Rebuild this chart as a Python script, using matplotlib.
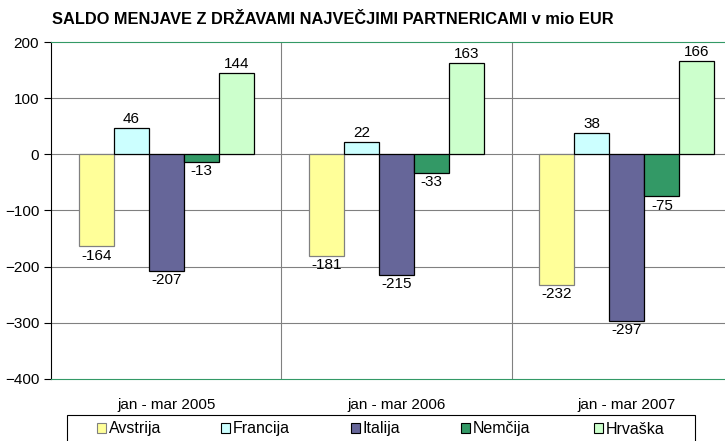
import numpy as np
import matplotlib.pyplot as plt
from matplotlib.patches import Patch, Rectangle

plt.rcParams['font.family'] = ['Liberation Sans', 'DejaVu Sans']

# podatki
obdobja = ['jan - mar 2005', 'jan - mar 2006', 'jan - mar 2007']
drzave = ['Avstrija', 'Francija', 'Italija', 'Nemčija', 'Hrvaška']
avstrija = [-164, -181, -232]
francija = [46, 22, 38]
italija = [-207, -215, -297]
nemcija = [-13, -33, -75]
hrvaska = [144, 163, 166]
barve = ['#FFFF99', '#CCFFFF', '#666699', '#339966', '#CCFFCC']
robovi = ['#808080', 'black', 'black', 'black', 'black']

serije = [avstrija, francija, italija, nemcija, hrvaska]

fig = plt.figure(figsize=(7.25, 4.41), dpi=100)
# os sega malo cez desni rob slike, kot v originalu
ax = fig.add_axes([51 / 725, 1 - 379 / 441, 691 / 725, 337 / 441])

x = np.arange(len(obdobja))
sirina = 0.152
for i, (vrednosti, barva) in enumerate(zip(serije, barve)):
    pos = x + (i - 2) * sirina
    ax.bar(pos, vrednosti, width=sirina, color=barva, edgecolor=robovi[i],
           linewidth=0.9, zorder=3)
    for px, v in zip(pos, vrednosti):
        if v >= 0:
            ax.text(px, v + 4, str(v), ha='center', va='bottom', fontsize=11)
        else:
            ax.text(px, v - 4, str(v), ha='center', va='top', fontsize=11)

ax.set_xlim(-0.5, 2.5)
ax.set_ylim(-400, 200)
ax.set_yticks(range(-400, 201, 100))
ax.tick_params(axis='y', labelsize=11, length=5, direction='out')
ax.set_xticks([])

# mreza
for yv in range(-300, 200, 100):
    ax.axhline(yv, color='#808080', linewidth=0.8, zorder=1)
for xv in [0.5, 1.5]:
    ax.axvline(xv, color='#808080', linewidth=0.8, zorder=1)

ax.spines['right'].set_visible(False)
ax.spines['top'].set_color('#339966')
ax.spines['bottom'].set_color('#339966')
ax.spines['left'].set_color('black')

for xi, lab in zip(x, obdobja):
    ax.text(xi, -446, lab, ha='center', va='center', fontsize=11, clip_on=False)

fig.text(52 / 725, 1 - 20 / 441, 'SALDO MENJAVE Z DRŽAVAMI NAJVEČJIMI PARTNERICAMI v mio EUR',
         fontsize=11.8, fontweight='bold', va='center', ha='left')

# okvir legende
fig.patches.append(Rectangle((67 / 725, -2 / 441), 628 / 725, 28 / 441,
                             transform=fig.transFigure, fill=False,
                             edgecolor='black', linewidth=0.8))

# vsak vnos legende posebej, da so razmiki kot v originalu
leg_x = [97, 221, 351, 461, 594]
for ime, barva, rob, lx in zip(drzave, barve, robovi, leg_x):
    fig.legend([Patch(facecolor=barva, edgecolor=rob, linewidth=0.8)], [ime],
               loc='center left', bbox_to_anchor=(lx / 725, 12 / 441),
               fontsize=11.5, frameon=False, borderaxespad=0, borderpad=0,
               handlelength=0.55, handleheight=0.55, handletextpad=0.2)

fig.savefig('out.png', dpi=100)
